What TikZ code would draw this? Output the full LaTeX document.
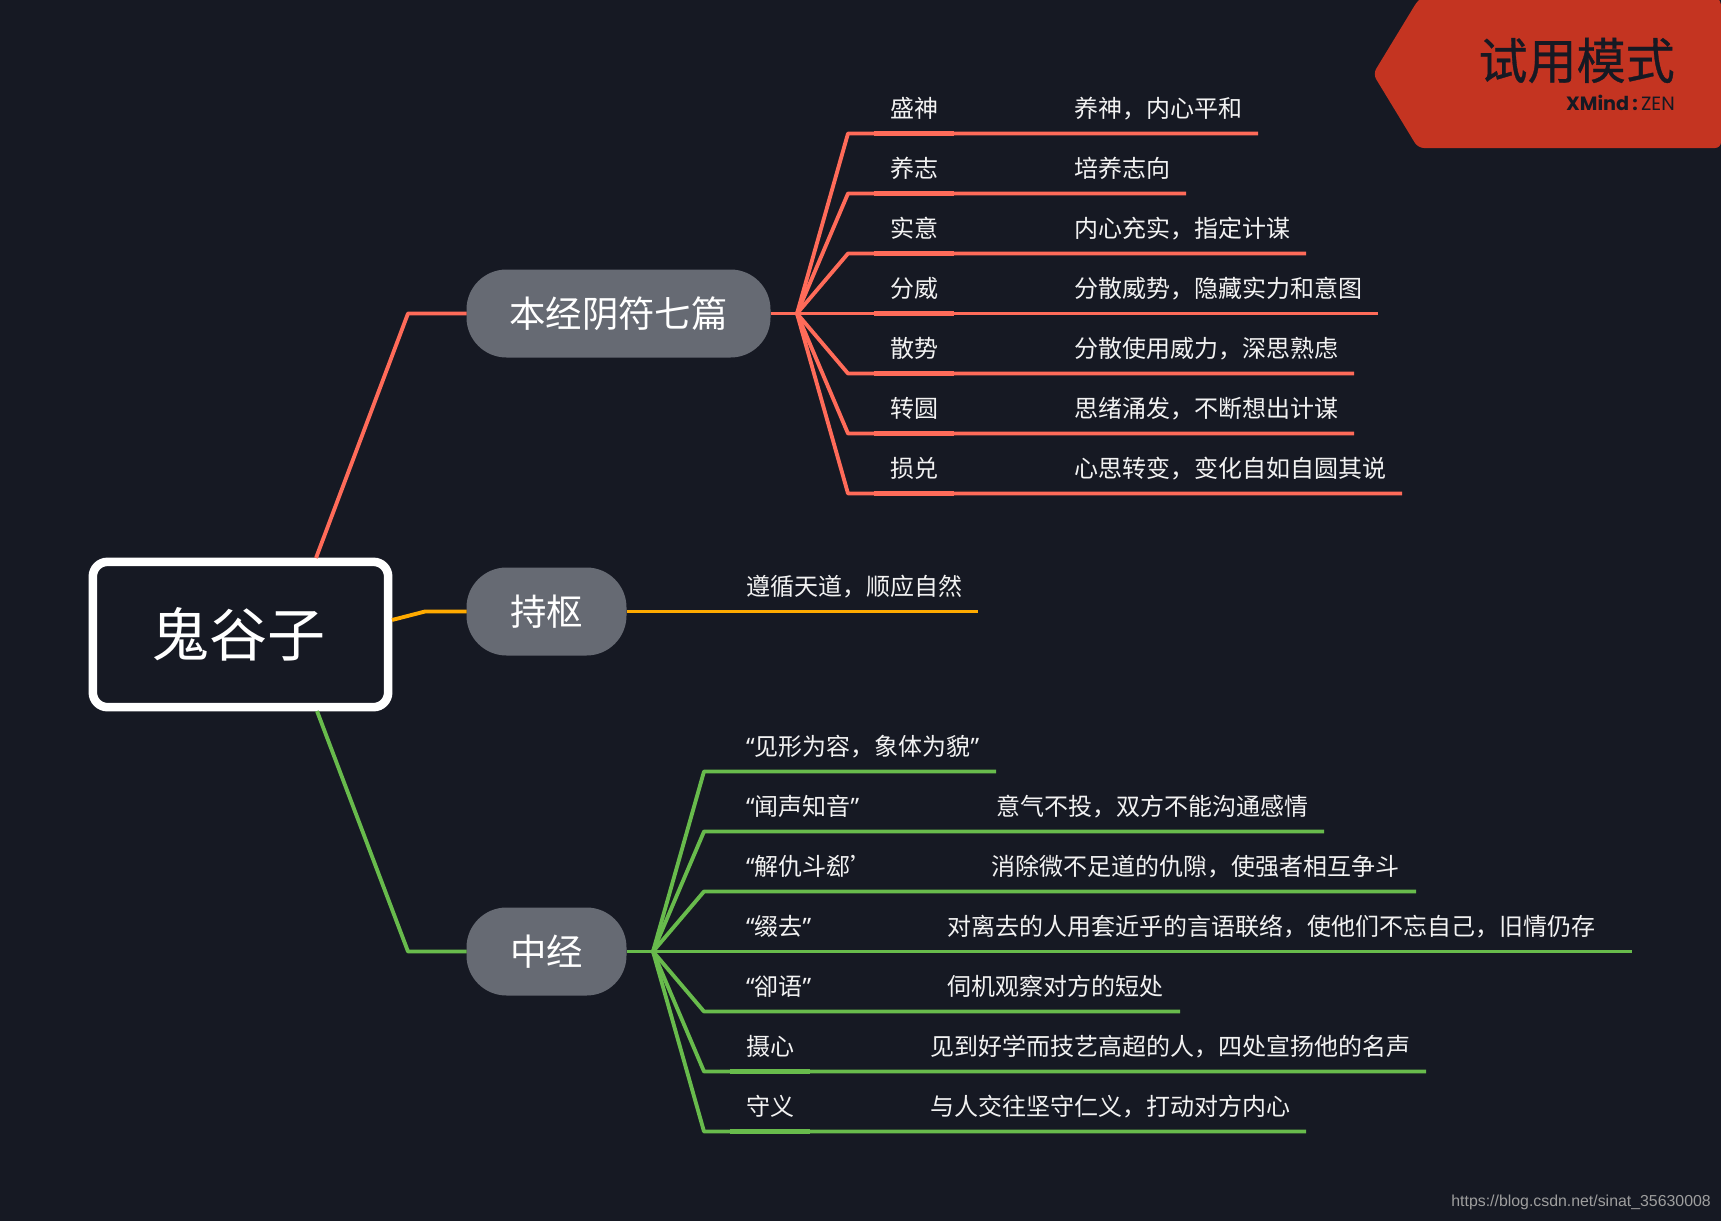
\documentclass[tikz,border=0pt]{standalone}
\usepackage{fontspec}
\setmainfont{Noto Sans CJK SC}
\newfontfamily\qf{Noto Sans}
\newfontfamily\wm{Liberation Sans}
\newfontfamily\brand{Poppins}
\newfontfamily\cjkmed[FakeBold=0.6]{Noto Sans CJK SC}
\definecolor{bgc}{HTML}{161923}
\definecolor{redl}{HTML}{FF6B59}
\definecolor{orl}{HTML}{FFAA00}
\definecolor{grl}{HTML}{68BB4C}
\definecolor{pill}{HTML}{666A73}
\definecolor{badge}{HTML}{C43421}
\definecolor{txt}{HTML}{F2F2F2}
\tikzset{
  x=0.75pt,y=-0.75pt,
  conn/.style={line width=2.9pt,line join=round},
  thickpart/.style={line width=3.8pt},
  pillnode/.style={fill=pill,rounded corners=30pt,minimum height=66pt,inner sep=0pt,outer sep=0pt,text=white,font=\fontsize{27.3pt}{30pt}\selectfont},
  rootnode/.style={draw=white,fill=bgc,line width=6.4pt,rounded corners=11pt,minimum width=221.5pt,minimum height=109pt,inner sep=0pt,outer sep=0pt,text=white,font=\fontsize{43.5pt}{46pt}\selectfont},
  lab/.style={anchor=west,inner sep=0pt,outer sep=0pt,text=txt,font=\fontsize{18pt}{20pt}\selectfont},
}
\newcommand{\oq}{{\qf “}}
\newcommand{\cq}{{\qf ”}}
\begin{document}
\begin{tikzpicture}
\useasboundingbox[fill=bgc] (0,0) rectangle (1721,1221);
% badge
\fill[badge,rounded corners=4.5pt] (1430,-8) -- (1418,0) -- (1373,74) -- (1418,148) -- (1721,148) -- (1721,0) -- (1710,-8) -- cycle;
\node[inner sep=0pt,anchor=east,text=bgc,font=\fontsize{36.8pt}{40pt}\selectfont\cjkmed] (bt) at (1675,60.5) {试用模式};
\node[inner sep=0pt,anchor=east,text=bgc,font=\fontsize{14.4pt}{16pt}\selectfont\brand] (bz) at (1675,103) {\textbf{XMind\,:}\,ZEN};
% coordinates
\coordinate (r1) at (316,558);
\coordinate (e1) at (408,313.5);
\coordinate (r2) at (392,620);
\coordinate (e2) at (425,611.5);
\coordinate (r3) at (317,711);
\coordinate (e3) at (408,951.5);
\coordinate (hub1) at (797,313.5);
\coordinate (hub3) at (653,951.5);
\coordinate (oend) at (978,611.5);
% main nodes
\node[rootnode] (root) at (240.5,634.5) {\hspace{-3pt}鬼谷子};
\node[pillnode,minimum width=228pt] (p1) at (618.5,313.5) {本经阴符七篇};
\node[pillnode,minimum width=120pt] (p2) at (546.5,611.5) {持枢};
\node[pillnode,minimum width=120pt] (p3) at (546.5,951.5) {中经};
% connectors root to pills
\draw[conn,redl] (r1) -- (e1) -- (p1.west);
\draw[conn,orl] (r2) -- (e2) -- (p2.west);
\draw[conn,grl] (r3) -- (e3) -- (p3.west);
\draw[conn,redl] (p1.east) -- (hub1);
\draw[conn,orl] (p2.east) -- (oend);
\draw[conn,grl] (p3.east) -- (hub3);
% red branches
\foreach \n/\yy/\xe/\a/\b in {
 1/133/1258/盛神/养神，内心平和,
 2/193/1186/养志/培养志向,
 3/253/1306/实意/内心充实，指定计谋,
 4/313/1378/分威/分散威势，隐藏实力和意图,
 5/373/1354/散势/分散使用威力，深思熟虑,
 6/433/1354/转圆/思绪涌发，不断想出计谋,
 7/493/1402/损兑/心思转变，变化自如自圆其说}{
  \coordinate (re\n) at (848,\yy+.5);
  \coordinate (rt\n) at (\xe,\yy+.5);
  \coordinate (ra\n) at (874,\yy+.5);
  \coordinate (rb\n) at (954,\yy+.5);
  \draw[conn,redl] (hub1) -- (re\n) -- (rt\n);
  \draw[thickpart,redl] (ra\n) -- (rb\n);
  \node[lab] (rl\n) at (890,\yy-25) {\a};
  \node[lab] (rm\n) at (1074,\yy-24.5) {\b};
}
\node[lab] (ol) at (746,586.5) {遵循天道，顺应自然};
% green branches
\foreach \n/\yy/\xe/\xm/\a/\b in {
 1/771/996/930/\oq 见形为容，象体为貌\cq/,
 2/831/1324/996/\oq 闻声知音\cq/意气不投，双方不能沟通感情,
 3/891/1416/991/\oq 解仇斗郄'/消除微不足道的仇隙，使强者相互争斗,
 4/951/1632/947/\oq 缀去\cq/对离去的人用套近乎的言语联络，使他们不忘自己，旧情仍存,
 5/1011/1180/947/\oq 卻语\cq/伺机观察对方的短处,
 6/1071/1426/930/摄心/见到好学而技艺高超的人，四处宣扬他的名声,
 7/1131/1306/930/守义/与人交往坚守仁义，打动对方内心}{
  \coordinate (ge\n) at (704,\yy+.5);
  \coordinate (gt\n) at (\xe,\yy+.5);
  \draw[conn,grl] (hub3) -- (ge\n) -- (gt\n);
  \node[lab] (gl\n) at (746,\yy-24.5) {\a};
  \node[lab] (gm\n) at (\xm,\yy-24.5) {\b};
}
\coordinate (ga6) at (730,1071.5); \coordinate (gb6) at (810,1071.5);
\coordinate (ga7) at (730,1131.5); \coordinate (gb7) at (810,1131.5);
\draw[thickpart,grl] (ga6) -- (gb6);
\draw[thickpart,grl] (ga7) -- (gb7);
\node[inner sep=0pt,anchor=east,text=black!38,font=\fontsize{11.9pt}{13pt}\selectfont\wm] (url) at (1711,1202.5) {https://blog.csdn.net/sinat\_35630008};
\end{tikzpicture}
\end{document}
